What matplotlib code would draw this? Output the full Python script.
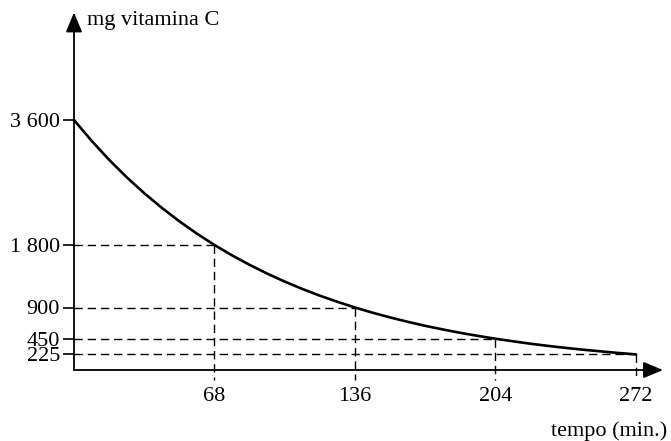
import matplotlib
matplotlib.use("Agg")
import matplotlib.pyplot as plt

# key points (half-life marks)
mark_t = [68, 136, 204, 272]
mark_v = [1800, 900, 450, 225]
ytick_vals = [225, 450, 900, 1800, 3600]
ytick_labels = ["225", "450", "900", "1 800", "3 600"]
xtick_labels = ["68", "136", "204", "272"]

# curve values
curve_t = [0, 8.5, 17, 25.5, 34, 42.5, 51, 59.5, 68, 76.5, 85, 93.5, 102, 110.5, 119, 127.5,
           136, 144.5, 153, 161.5, 170, 178.5, 187, 195.5, 204, 212.5, 221, 229.5, 238, 246.5,
           255, 263.5, 272]
curve_v = [3600, 3301, 3027, 2776, 2546, 2335, 2141, 1963, 1800, 1651, 1514, 1388, 1273, 1167,
           1070, 982, 900, 825, 757, 694, 636, 584, 535, 491, 450, 413, 378, 347, 318, 292,
           268, 245, 225]

plt.rcParams['font.family'] = ['Liberation Serif', 'DejaVu Serif']
plt.rcParams['font.size'] = 16

fig = plt.figure(figsize=(6.71, 4.41), dpi=100)
ax = fig.add_axes([74/671, 71/441, 562/671, 250/441])
ax.set_xlim(0, 272)
ax.set_ylim(0, 3600)
for s in ax.spines.values():
    s.set_visible(False)

dash = (0, (6, 3.5))
for t, v in zip(mark_t, mark_v):
    ax.plot([0, t], [v, v], color='black', lw=1.0, linestyle=dash, clip_on=False)
    ax.plot([t, t], [v, -150], color='black', lw=1.0, linestyle=dash, clip_on=False)

ax.plot(curve_t, curve_v, color='black', lw=1.9, clip_on=False, solid_capstyle='round')

# axes with arrows
arrow = dict(arrowstyle='-|>,head_length=0.6,head_width=0.25', mutation_scale=20,
             lw=1.3, color='black', shrinkA=0, shrinkB=0)
ax.annotate('', xy=(1.048, 0), xytext=(0, 0), xycoords='axes fraction',
            textcoords='axes fraction', arrowprops=arrow)
ax.annotate('', xy=(0, 1.43), xytext=(0, 0), xycoords='axes fraction',
            textcoords='axes fraction', arrowprops=arrow)

ax.set_xticks(mark_t, xtick_labels)
ax.tick_params(axis='x', length=0, pad=12)
ax.set_yticks(ytick_vals, ytick_labels)
ax.tick_params(axis='y', length=8, width=1.2, pad=2, direction='out')

fig.text(87/671, 1 - 21/441, 'mg vitamina C', ha='left', va='center')
fig.text(667/671, 1 - 431/441, 'tempo (min.)', ha='right', va='center')

fig.savefig('out.png', dpi=100)
